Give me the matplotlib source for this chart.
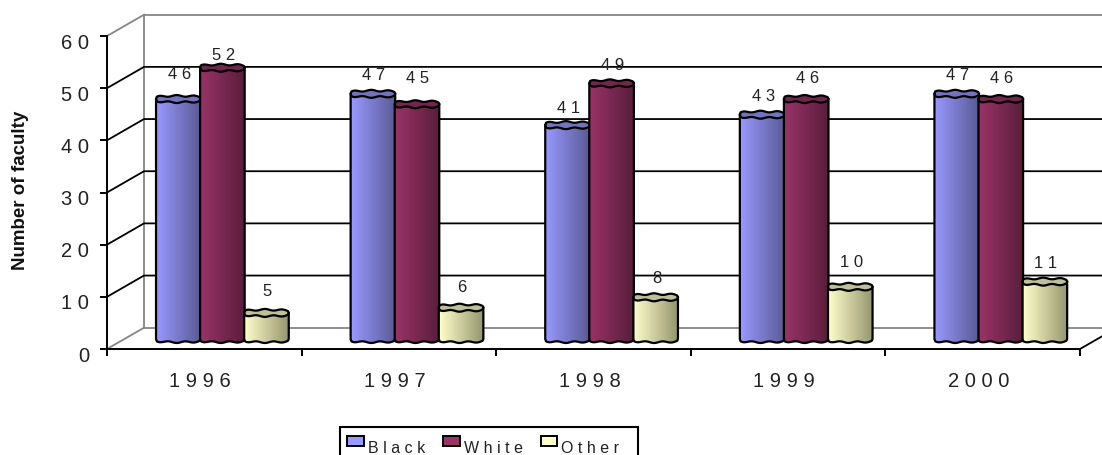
import numpy as np
import matplotlib
matplotlib.use('Agg')
import matplotlib.pyplot as plt
from matplotlib.colors import LinearSegmentedColormap
from matplotlib.patches import Patch, Polygon, Rectangle
from matplotlib.transforms import ScaledTranslation

years = ['1996', '1997', '1998', '1999', '2000']
black = [46, 47, 41, 43, 47]
white = [52, 45, 49, 46, 46]
other = [5, 6, 8, 10, 11]
y_ticks = [0, 10, 20, 30, 40, 50, 60]

names = ['Black', 'White', 'Other']
series = [black, white, other]
light = ['#9999FF', '#993366', '#FFFFCC']
dark = ['#5A5A96', '#591E3B', '#96966F']
top_col = ['#7373BF', '#73264D', '#BFBF99']

W, H = 1102, 456
# depth of the 3d box, in axis units
depth_x = 37 / 194.6
depth_y = 21.3 / 5.22
bar_base = 10 / 5.22
bar_w = 0.229
group_left = 0.252
bar_step = 0.2265
cap_h = 4.0 / 5.22

# how far above the bar the number sits, pixels
label_gap = [[26, 13, 22], [19, 27, 21], [18, 19, 20], [19, 22, 25], [19, 22, 19]]


def spaced(s):
    return ' '.join(s)


def rim(x0, y, sign, n=60):
    # wobbly half ellipse, the old chart engine drew these quite rough
    t = np.linspace(-1, 1, n)
    xs = x0 + (t + 1) / 2 * bar_w
    ys = y + sign * cap_h * (np.abs(1 - t ** 2) ** 0.18) * (0.8 + 0.2 * np.cos(t * 8 + 0.6))
    return xs, ys


def px_shift(artist, dx, dy):
    artist.set_transform(artist.get_transform() + ScaledTranslation(dx / 100, dy / 100, fig.dpi_scale_trans))


plt.rcParams['font.family'] = ['Liberation Sans', 'DejaVu Sans']
fig = plt.figure(figsize=(W / 100, H / 100), dpi=100)
ax = fig.add_axes([107 / W, 1 - 350 / H, (1080 - 107) / W, (350 - 37) / H])
ax.patch.set_alpha(0)
ax.set_xlim(0, 5)
ax.set_ylim(0, 60)
ax.set_autoscale_on(False)

# back wall and floor
grey = '#868686'
x_end = 5 + depth_x + 0.1
ax.plot([depth_x, depth_x], [depth_y, 60 + depth_y], color=grey, lw=1.3, clip_on=False, zorder=1)
ax.plot([depth_x, x_end], [60 + depth_y] * 2, color=grey, lw=1.3, clip_on=False, zorder=1)
ax.plot([depth_x, x_end], [depth_y] * 2, color=grey, lw=1.3, clip_on=False, zorder=1)
ax.plot([0, depth_x], [60, 60 + depth_y], color=grey, lw=1.3, clip_on=False, zorder=1)
ax.plot([0, depth_x], [0, depth_y], color=grey, lw=1.3, clip_on=False, zorder=1)
ax.plot([5, 5 + depth_x], [0, depth_y], color='black', lw=1.3, clip_on=False, zorder=1)
for v in y_ticks[1:-1]:
    ax.plot([0, depth_x, x_end], [v, v + depth_y, v + depth_y], color='black', lw=1.3,
            clip_on=False, zorder=1)

# cylinders
for j, vals in enumerate(series):
    cmap = LinearSegmentedColormap.from_list(names[j], [light[j], dark[j]])
    for i, v in enumerate(vals):
        x0 = i + group_left + j * bar_step
        z = 3 + j * 0.1 + i
        top = bar_base + v
        xb, yb = rim(x0, bar_base, -1)
        xt, yt = rim(x0, top, -1)
        xu, yu = rim(x0, top, 1)
        body = Polygon(np.column_stack([np.r_[xb, xt[::-1]], np.r_[yb, yt[::-1]]]),
                       closed=True, transform=ax.transData, fc='none', ec='none')
        ax.add_patch(body)
        body.set_clip_on(False)
        img = ax.imshow(np.linspace(0, 1, 60).reshape(1, -1), cmap=cmap, aspect='auto',
                        extent=[x0, x0 + bar_w, bar_base - 2, top + 2], zorder=z)
        img.set_clip_path(body)
        cap = Polygon(np.column_stack([np.r_[xt, xu[::-1]], np.r_[yt, yu[::-1]]]), closed=True,
                      fc=top_col[j], ec='black', lw=1.6, zorder=z + 0.01, clip_on=False)
        ax.add_patch(cap)
        ax.plot(np.r_[xt[0], xb, xt[-1]], np.r_[yt[0], yb, yt[-1]], color='black', lw=1.6,
                zorder=z + 0.01, clip_on=False)
        ax.text(x0 + bar_w / 2 + 0.005, top + label_gap[i][j] / 5.22, spaced(str(v)), fontsize=12,
                color='#222222', ha='center', va='center', zorder=20, clip_on=False)

ax.set_xlim(0, 5)
ax.set_ylim(0, 60)

# axes in front
for s in ['top', 'right']:
    ax.spines[s].set_visible(False)
for s in ['left', 'bottom']:
    ax.spines[s].set_linewidth(1.4)
    ax.spines[s].set_zorder(2)
ax.set_yticks(y_ticks)
ax.set_yticklabels([spaced(str(v)) for v in y_ticks], fontsize=14.5, color='#222222')
ax.set_xticks(range(6))
ax.set_xticklabels([])
ax.set_xticks(np.arange(5) + 0.5, minor=True)
ax.set_xticklabels([spaced(y) for y in years], minor=True, fontsize=14.5, color='#222222')
ax.tick_params(axis='x', which='major', length=5, width=1.4, direction='out')
ax.tick_params(axis='x', which='minor', length=0, pad=16)
ax.tick_params(axis='y', length=5, width=1.4, direction='out', pad=8)
for lab in ax.get_yticklabels():
    px_shift(lab, 0, -4)
for lab in ax.get_xticklabels(minor=True):
    px_shift(lab, -4, 0)

fig.text(21 / W, 1 - 190 / H, 'Number of faculty', rotation=90, fontsize=13.5, fontweight='bold',
         ha='center', va='center', color='#111111')

# legend box runs off the bottom of the picture in the original
fig.add_artist(Rectangle((339.5 / W, -10 / H), 298 / W, (10 + 456 - 428) / H, transform=fig.transFigure,
                         fc='white', ec='black', lw=1.5))
handles = [Patch(fc=light[k], ec='black', lw=1.4) for k in range(3)]
leg = fig.legend(handles, [spaced(n) for n in names], ncol=3, loc='lower left',
                 bbox_to_anchor=(347 / W, 0 / H), bbox_transform=fig.transFigure,
                 fontsize=11.5, frameon=False,
                 handlelength=1.05, handleheight=0.55, handletextpad=0.25, columnspacing=1.12,
                 borderpad=0, borderaxespad=0, labelcolor='#222222')
leg.set_zorder(5)
for h in leg.legend_handles:
    h.set_y(h.get_y() + 4)

fig.savefig('out.png', dpi=100)
